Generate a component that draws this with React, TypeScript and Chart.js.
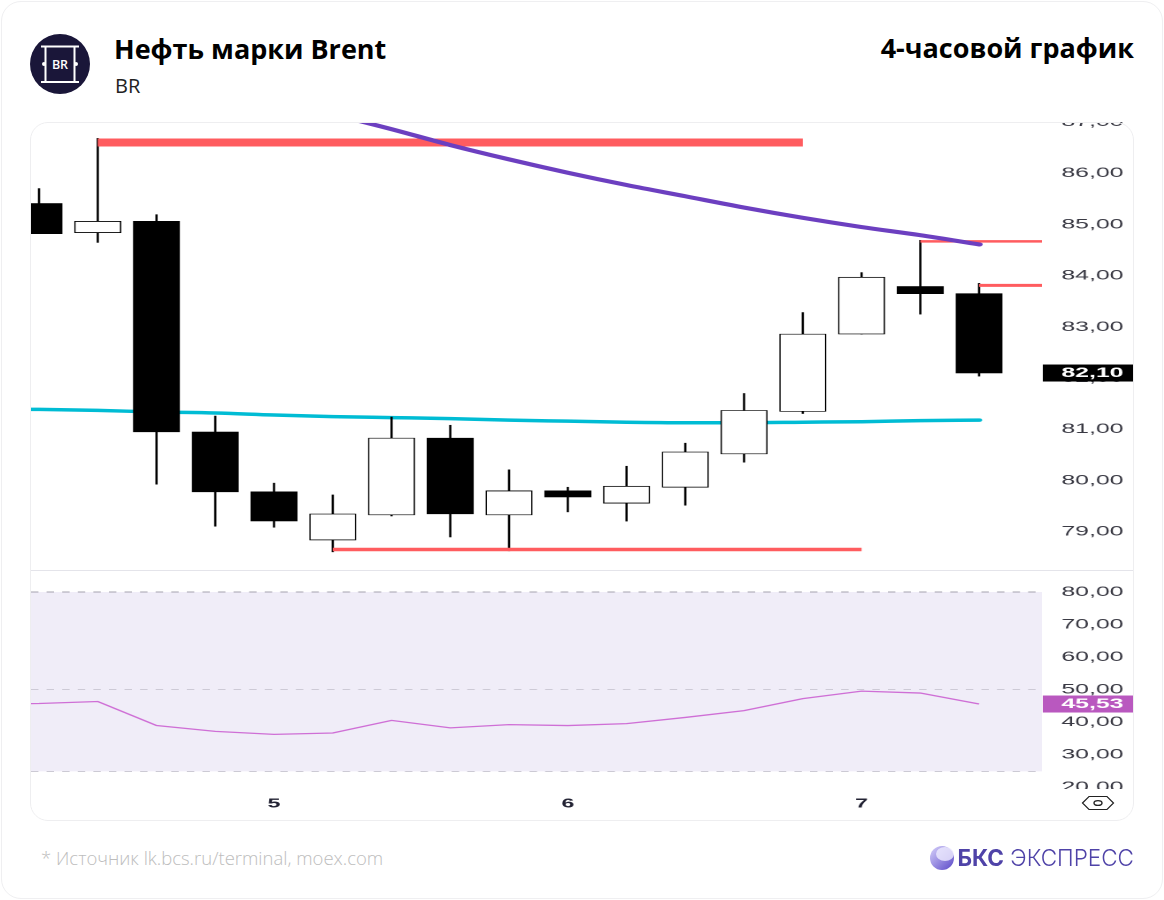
import { useEffect, useRef } from "react";
import { Chart, registerables, type ChartConfiguration, type Plugin } from "chart.js";

Chart.register(...registerables);

const candleIndex = [0, 1, 2, 3, 4, 5, 6, 7, 8, 9, 10, 11, 12, 13, 14, 15, 16];
const opens = [85.41, 84.84, 85.06, 80.95, 79.78, 78.84, 79.33, 80.83, 79.33, 79.8, 79.56, 79.87, 80.52, 81.35, 82.86, 83.79, 83.65];
const closes = [84.82, 85.06, 80.95, 79.78, 79.21, 79.35, 80.83, 79.35, 79.8, 79.68, 79.89, 80.56, 81.37, 82.86, 83.97, 83.65, 82.1];
const highs = [85.7, 86.68, 85.19, 81.26, 79.95, 79.72, 81.24, 81.08, 80.21, 79.87, 80.28, 80.73, 81.7, 83.28, 84.06, 84.69, 83.85];
const lows = [84.82, 84.65, 79.93, 79.11, 79.09, 78.61, 79.31, 78.9, 78.63, 79.39, 79.21, 79.52, 80.36, 81.31, 82.86, 83.25, 82.04];

const slowIndex = [5, 6, 7, 8, 9, 10, 11, 12, 13, 14, 15, 16];
const slowAverage = [87.15, 86.86, 86.55, 86.27, 86.01, 85.77, 85.55, 85.33, 85.13, 84.95, 84.79, 84.61];

const lineIndex = [-1, 0, 1, 2, 3, 4, 5, 6, 7, 8, 9, 10, 11, 12, 13, 14, 15, 16];
const fastAverage = [81.4, 81.39, 81.37, 81.34, 81.32, 81.28, 81.25, 81.23, 81.21, 81.18, 81.16, 81.14, 81.13, 81.13, 81.14, 81.15, 81.17, 81.18];
const rsiValues = [45.4, 45.7, 46.3, 38.9, 37.1, 36.2, 36.6, 40.5, 38.2, 39.2, 38.9, 39.5, 41.4, 43.5, 47.2, 49.5, 48.9, 45.53];

const priceTicks = [79, 80, 81, 82, 83, 84, 85, 86, 87];
const rsiTicks = [20, 30, 40, 50, 60, 70, 80];
const dayTicks = [4, 9, 14];
const dayLabels: Record<number, string> = { 4: "5", 9: "6", 14: "7" };

const lastPrice = 82.1;
const lastRsi = 45.53;
const xMin = -0.136;
const xMax = 17.07;

// the reference is a narrow chart stretched sideways, so the canvases are too
const STRETCH = 1103 / 623;
const TICK_FONT = { family: "'Liberation Sans', Arial, sans-serif", size: 14 };

const zip = (xs: number[], ys: number[]) => xs.map((x, i) => ({ x, y: ys[i] }));
const fmt = (v: number) => v.toFixed(2).replace(".", ",");

function levelLine(from: number, to: number, y: number, width: number) {
  return {
    type: "line" as const,
    data: [{ x: from, y }, { x: to, y }],
    borderColor: "#ff5c5f",
    borderWidth: width,
    pointRadius: 0,
    order: 1
  };
}

function tagPlugin(value: number, color: string, scaleId: string): Plugin {
  return {
    id: "tag" + scaleId,
    afterDraw(chart) {
      const { ctx, chartArea } = chart;
      const y = chart.scales[scaleId].getPixelForValue(value);
      ctx.save();
      ctx.fillStyle = color;
      ctx.fillRect(chartArea.right + 0.5, y - 8.5, 51, 17);
      ctx.fillStyle = "#ffffff";
      ctx.font = `bold 14px ${TICK_FONT.family}`;
      ctx.textBaseline = "middle";
      ctx.fillText(fmt(value), chartArea.right + 11, y);
      ctx.restore();
    }
  };
}

function xScale(display: boolean) {
  return {
    type: "linear" as const,
    min: xMin,
    max: xMax,
    offset: false,
    display,
    grid: { display: false, drawTicks: false },
    border: { display: false },
    afterBuildTicks(scale: any) {
      scale.ticks = dayTicks.map((value) => ({ value }));
    },
    afterFit(scale: any) {
      scale.height = display ? 32 : 0;
      scale.paddingLeft = 0;
      scale.paddingRight = 0;
    },
    ticks: {
      autoSkip: false,
      maxRotation: 0,
      padding: 7,
      color: "#222233",
      font: { ...TICK_FONT, size: 13, weight: "bold" as const },
      callback: (v: any) => dayLabels[Number(v)] ?? ""
    }
  };
}

function yScale(min: number, max: number, ticks: number[]) {
  return {
    position: "right" as const,
    min,
    max,
    grid: { display: false, drawTicks: false },
    border: { display: false },
    afterBuildTicks(scale: any) {
      scale.ticks = ticks.map((value) => ({ value }));
    },
    afterFit(scale: any) {
      scale.width = 52;
      scale.paddingTop = 0;
      scale.paddingBottom = 0;
    },
    ticks: {
      autoSkip: false,
      padding: 11,
      color: "#3a3a44",
      font: TICK_FONT,
      callback: (v: any) => fmt(Number(v))
    }
  };
}

function priceConfig(): ChartConfiguration<"bar"> {
  return {
    type: "bar",
    data: {
      datasets: [
        {
          type: "line",
          data: zip(slowIndex, slowAverage),
          borderColor: "#6c3fc0",
          borderWidth: 4,
          borderCapStyle: "round",
          cubicInterpolationMode: "monotone",
          pointRadius: 0,
          order: 0
        },
        levelLine(1, 13, 86.6, 8),
        levelLine(15, xMax, 84.67, 2.5),
        levelLine(16, xMax, 83.81, 3),
        levelLine(5, 14, 78.655, 3.5),
        {
          data: candleIndex.map((x, i) => ({ x, y: [opens[i], closes[i]] })),
          backgroundColor: candleIndex.map((i) => (closes[i] < opens[i] ? "#000000" : "#ffffff")),
          borderColor: "#000000",
          borderWidth: 0.8,
          borderSkipped: false,
          barThickness: 46 / STRETCH,
          grouped: false,
          order: 2
        },
        {
          data: candleIndex.map((x, i) => ({ x, y: [lows[i], highs[i]] })),
          backgroundColor: "#000000",
          barThickness: 1.1 / STRETCH,
          grouped: false,
          order: 3
        },
        {
          type: "line",
          data: zip(lineIndex, fastAverage),
          borderColor: "#00bcd4",
          borderWidth: 3.5,
          borderCapStyle: "round",
          cubicInterpolationMode: "monotone",
          pointRadius: 0,
          order: 4
        }
      ] as any
    },
    options: {
      animation: false,
      responsive: false,
      devicePixelRatio: 2,
      layout: { padding: 0 },
      plugins: { legend: { display: false }, tooltip: { enabled: false } },
      scales: {
        x: xScale(false),
        y: yScale(78.255, 87, priceTicks)
      } as any
    },
    plugins: [tagPlugin(lastPrice, "#000000", "y")]
  };
}

function bandLine(y: number, color: string, fill: any, order: number) {
  return {
    data: [{ x: xMin, y }, { x: xMax, y }],
    borderColor: color,
    borderWidth: 1,
    borderDash: [4.2, 4.6],
    backgroundColor: "#f0edf8",
    pointRadius: 0,
    fill,
    order
  };
}

function rsiConfig(): ChartConfiguration<"line"> {
  return {
    type: "line",
    data: {
      datasets: [
        {
          data: zip(lineIndex, rsiValues),
          borderColor: "#cf6fd6",
          borderWidth: 1.3,
          pointRadius: 0,
          fill: false,
          order: 0
        },
        bandLine(50, "#cdcad6", false, 1),
        bandLine(80, "#a5a2ae", "+1", 2),
        bandLine(24.8, "#a5a2ae", false, 3)
      ]
    },
    options: {
      animation: false,
      responsive: false,
      devicePixelRatio: 2,
      layout: { padding: 0 },
      plugins: { legend: { display: false }, tooltip: { enabled: false } },
      scales: {
        x: xScale(true),
        y: yScale(19.38, 86.77, rsiTicks)
      } as any
    },
    plugins: [tagPlugin(lastRsi, "#b958bf", "y")]
  };
}

function BrentIcon() {
  return (
    <svg width="60" height="60" viewBox="0 0 60 60" style={{ position: "absolute", left: 30, top: 33.5 }}>
      <circle cx="30" cy="30" r="30" fill="#1a1639" />
      <g stroke="#ffffff" strokeWidth="2" fill="none">
        <path d="M11 12.5H49M11 48H49M15.5 12.5V48M44.5 12.5V48" />
      </g>
      <circle cx="14" cy="30" r="2" fill="#ffffff" />
      <circle cx="46" cy="30" r="2" fill="#ffffff" />
      <text x="30" y="34.5" textAnchor="middle" fill="#ffffff" fontFamily="'Open Sans'" fontSize="12.5" fontWeight="600">BR</text>
    </svg>
  );
}

function EyeIcon() {
  return (
    <svg width="34" height="16" viewBox="0 0 34 16" style={{ position: "absolute", left: 1081, top: 795 }}>
      <path d="M1.5 8L8 1.5H26L32.5 8L26 14.5H8Z" fill="none" stroke="#222222" strokeWidth="1.2" />
      <ellipse cx="17" cy="8" rx="4" ry="2.4" fill="none" stroke="#222222" strokeWidth="1.4" />
    </svg>
  );
}

function Logo() {
  return (
    <svg width="24" height="24" viewBox="0 0 24 24" style={{ position: "absolute", left: 930, top: 846 }}>
      <defs>
        <linearGradient id="bcsBall" x1="0" y1="0" x2="1" y2="1">
          <stop offset="0" stopColor="#d8d2fb" />
          <stop offset="1" stopColor="#5a48c8" />
        </linearGradient>
      </defs>
      <circle cx="12" cy="12" r="12" fill="url(#bcsBall)" />
      <ellipse cx="15" cy="8" rx="9" ry="7" fill="#efecff" opacity="0.8" />
    </svg>
  );
}

export default function App() {
  const priceRef = useRef<HTMLCanvasElement | null>(null);
  const rsiRef = useRef<HTMLCanvasElement | null>(null);

  useEffect(() => {
    if (!priceRef.current || !rsiRef.current) {
      return;
    }
    const price = new Chart(priceRef.current, priceConfig());
    const rsi = new Chart(rsiRef.current, rsiConfig());
    return () => {
      price.destroy();
      rsi.destroy();
    };
  }, []);

  const heading = { position: "absolute", fontFamily: "'Open Sans'", fontWeight: 700, fontSize: 27, color: "#000", lineHeight: "34px", whiteSpace: "nowrap" } as const;
  const stretched = { position: "absolute", left: 31, transform: `scaleX(${STRETCH})`, transformOrigin: "left top", display: "block" } as const;

  return (
    <div style={{ position: "fixed", left: 0, top: 0, width: 1164, height: 900, background: "#fff", overflow: "hidden" }}>
      <div style={{ position: "absolute", left: 1, top: 1, width: 1160, height: 896, border: "1.5px solid #efeff1", borderRadius: 20 }} />
      <BrentIcon />
      <div style={{ ...heading, left: 114, top: 32 }}>Нефть марки Brent</div>
      <div style={{ ...heading, right: 30, top: 31 }}>4-часовой график</div>
      <div style={{ position: "absolute", left: 115, top: 72, fontFamily: "'Open Sans'", fontSize: 20, lineHeight: "27px", color: "#222" }}>BR</div>

      <canvas ref={priceRef} width={623} height={448} style={{ ...stretched, top: 122 }} />
      <canvas ref={rsiRef} width={623} height={251} style={{ ...stretched, top: 570 }} />
      <div style={{ position: "absolute", left: 1048, top: 789, width: 84, height: 6, background: "#fff" }} />
      <div style={{ position: "absolute", left: 31, top: 570, width: 1103, height: 1, background: "#e4e4ea" }} />
      <div style={{ position: "absolute", left: 30, top: 122, width: 1102, height: 697, border: "1.5px solid #eeeef0", borderRadius: 18 }} />
      <EyeIcon />

      <div style={{ position: "absolute", left: 41, top: 846, fontFamily: "'Open Sans'", fontWeight: 300, fontSize: 18.5, lineHeight: "24px", color: "#bdbdbd", whiteSpace: "nowrap" }}>
        * Источник lk.bcs.ru/terminal, moex.com
      </div>
      <Logo />
      <div style={{ position: "absolute", right: 30, top: 844, fontFamily: "Inter", fontSize: 22.5, lineHeight: "28px", color: "#4f43a8", whiteSpace: "nowrap" }}>
        <b>БКС</b> <span style={{ fontWeight: 300 }}>ЭКСПРЕСС</span>
      </div>
    </div>
  );
}
